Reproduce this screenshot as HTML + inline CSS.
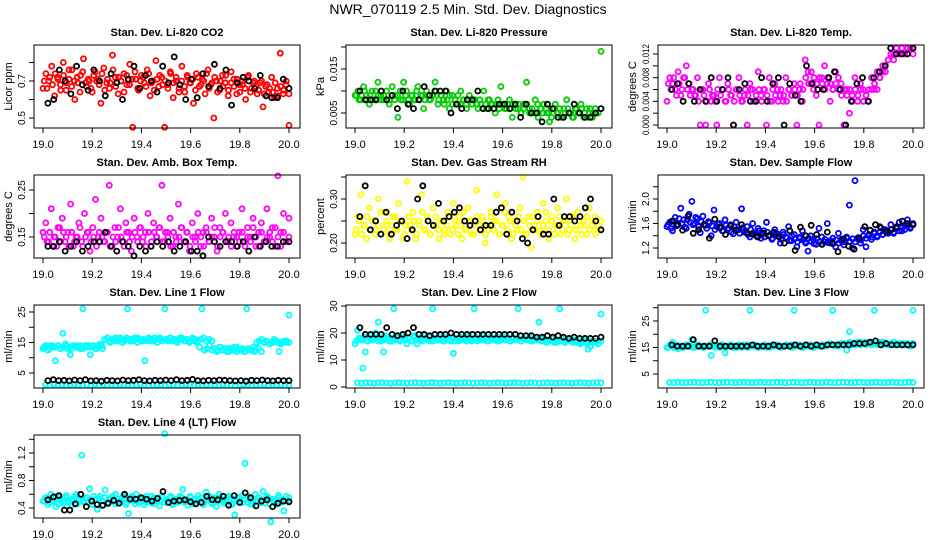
<!DOCTYPE html>
<html><head><meta charset="utf-8">
<style>
html,body{margin:0;padding:0;background:#fff;}
svg{display:block;font-family:"Liberation Sans",Arial,sans-serif;}
</style></head>
<body>
<svg id="chart" width="936" height="540" viewBox="0 0 936 540">
<rect width="936" height="540" fill="#fff"/>
<text x="468" y="14" text-anchor="middle" font-size="14">NWR_070119  2.5 Min. Std. Dev. Diagnostics</text>
</svg>
<script>
// ---- data arrays ----
const xTicks = [19.0,19.2,19.4,19.6,19.8,20.0];
const xTickLabels = ["19.0","19.2","19.4","19.6","19.8","20.0"];

const co2Main = [0.66,0.74,0.70,0.78,0.62,0.72,0.68,0.80,0.65,0.71,0.76,0.60,0.69,0.73,0.82,0.67,0.70,0.64,0.75,0.71,0.58,0.77,0.69,0.66,0.84,0.72,0.63,0.70,0.74,0.68,0.79,0.45,0.71,0.65,0.73,0.69,0.76,0.62,0.70,0.81,0.67,0.72,0.45,0.68,0.75,0.61,0.70,0.66,0.78,0.64,0.72,0.69,0.58,0.74,0.67,0.71,0.63,0.76,0.68,0.50,0.70,0.65,0.73,0.69,0.62,0.75,0.67,0.71,0.64,0.68,0.60,0.73,0.66,0.70,0.63,0.69,0.56,0.67,0.64,0.72,0.61,0.66,0.85,0.63,0.68,0.46];
const co2Core = [0.70,0.66,0.72,0.68,0.74,0.71,0.65,0.73,0.69,0.76,0.67,0.70,0.72,0.64,0.75,0.69,0.71,0.66,0.73,0.70,0.68,0.74,0.65,0.71,0.69,0.76,0.67,0.72,0.70,0.64,0.73,0.68,0.71,0.75,0.66,0.70,0.72,0.67,0.74,0.69,0.65,0.71,0.73,0.68,0.70,0.66,0.74,0.69,0.72,0.64,0.70,0.67,0.73,0.69,0.71,0.65,0.72,0.68,0.70,0.74,0.66,0.69,0.72,0.64,0.70,0.67,0.73,0.65,0.69,0.71,0.63,0.68,0.70,0.66,0.72,0.64,0.69,0.67,0.65,0.70,0.63,0.68,0.66,0.64,0.69,0.62,0.67,0.65,0.70,0.63];
const co2Black = [0.58,0.60,0.76,0.70,0.63,0.78,0.68,0.65,0.76,0.70,0.62,0.74,0.69,0.60,0.71,0.78,0.66,0.73,0.70,0.64,0.78,0.69,0.83,0.68,0.60,0.71,0.61,0.74,0.67,0.79,0.66,0.76,0.57,0.69,0.72,0.70,0.66,0.73,0.62,0.61,0.61,0.71,0.66];
const presMain = [0.009,0.010,0.008,0.011,0.009,0.007,0.010,0.008,0.012,0.009,0.008,0.010,0.007,0.011,0.009,0.004,0.008,0.012,0.010,0.007,0.009,0.008,0.011,0.009,0.006,0.010,0.008,0.009,0.012,0.007,0.009,0.008,0.010,0.006,0.009,0.008,0.007,0.010,0.008,0.006,0.009,0.007,0.008,0.006,0.007,0.010,0.006,0.008,0.007,0.005,0.008,0.011,0.007,0.006,0.008,0.004,0.007,0.006,0.005,0.007,0.012,0.006,0.005,0.008,0.004,0.006,0.007,0.005,0.003,0.006,0.007,0.005,0.004,0.006,0.008,0.005,0.004,0.006,0.005,0.007,0.004,0.006,0.005,0.004,0.006,0.005,0.019];
const presCore = [0.009,0.008,0.009,0.010,0.008,0.009,0.008,0.010,0.009,0.008,0.009,0.010,0.008,0.009,0.008,0.009,0.010,0.008,0.009,0.008,0.009,0.008,0.010,0.008,0.009,0.008,0.009,0.008,0.009,0.010,0.008,0.009,0.007,0.008,0.009,0.007,0.008,0.009,0.007,0.008,0.007,0.008,0.007,0.008,0.007,0.008,0.006,0.007,0.008,0.007,0.006,0.007,0.006,0.007,0.006,0.007,0.006,0.007,0.006,0.007,0.005,0.006,0.007,0.005,0.006,0.005,0.007,0.006,0.005,0.006,0.005,0.004,0.006,0.005,0.006,0.004,0.005,0.006,0.005,0.004,0.006,0.005,0.006,0.005,0.004,0.006,0.005,0.006,0.005,0.006];
const presBlack = [0.010,0.008,0.008,0.008,0.010,0.008,0.009,0.006,0.010,0.007,0.006,0.008,0.011,0.009,0.010,0.010,0.010,0.005,0.007,0.006,0.008,0.008,0.010,0.006,0.006,0.006,0.007,0.007,0.006,0.007,0.004,0.007,0.005,0.005,0.003,0.007,0.006,0.004,0.004,0.005,0.007,0.005,0.004,0.004,0.005,0.006];
const tempMain = [0.004,0.008,0.007,0.006,0.009,0.005,0.008,0.010,0.007,0.006,0.005,0.008,0.000,0.006,0.000,0.007,0.004,0.005,0.000,0.008,0.006,0.004,0.007,0.005,0.000,0.006,0.008,0.004,0.005,0.000,0.007,0.006,0.004,0.009,0.005,0.006,0.000,0.008,0.004,0.007,0.006,0.005,0.004,0.008,0.006,0.005,0.007,0.000,0.006,0.004,0.011,0.009,0.007,0.006,0.005,0.000,0.008,0.010,0.007,0.004,0.006,0.009,0.008,0.007,0.000,0.006,0.002,0.005,0.008,0.004,0.007,0.006,0.005,0.004,0.008,0.006,0.009,0.008,0.010,0.009,0.011,0.012,0.011,0.013,0.012,0.013,0.012,0.013,0.013,0.013];
const tempCore = [0.007,0.006,0.008,0.005,0.007,0.006,0.008,0.006,0.005,0.006,0.005,0.004,0.006,0.005,0.004,0.006,0.005,0.004,0.006,0.005,0.006,0.004,0.006,0.005,0.004,0.006,0.005,0.004,0.006,0.005,0.006,0.004,0.005,0.006,0.004,0.006,0.005,0.004,0.006,0.005,0.004,0.006,0.005,0.004,0.006,0.005,0.006,0.005,0.007,0.006,0.008,0.007,0.009,0.008,0.007,0.008,0.007,0.006,0.008,0.007,0.006,0.007,0.006,0.005,0.006,0.005,0.006,0.004,0.006,0.005,0.006,0.004,0.005,0.006,0.006,0.007,0.006,0.008,0.009,0.010,0.011,0.012,0.012,0.013,0.012,0.013,0.012,0.013,0.013,0.012];
const tempBlack = [0.006,0.007,0.004,0.007,0.004,0.006,0.004,0.008,0.004,0.006,0.008,0.000,0.006,0.007,0.004,0.004,0.008,0.004,0.007,0.008,0.000,0.007,0.005,0.004,0.010,0.007,0.006,0.006,0.008,0.009,0.006,0.000,0.004,0.007,0.008,0.004,0.008,0.009,0.010,0.013,0.012,0.012,0.012,0.013];
const ambMain = [0.16,0.18,0.14,0.21,0.15,0.13,0.17,0.19,0.14,0.16,0.22,0.13,0.15,0.18,0.14,0.20,0.16,0.12,0.17,0.23,0.15,0.19,0.14,0.16,0.26,0.13,0.17,0.15,0.21,0.14,0.18,0.16,0.12,0.19,0.15,0.17,0.14,0.16,0.20,0.13,0.18,0.15,0.17,0.26,0.14,0.16,0.19,0.13,0.15,0.22,0.17,0.14,0.16,0.12,0.18,0.15,0.20,0.13,0.16,0.17,0.14,0.19,0.15,0.12,0.17,0.16,0.20,0.14,0.18,0.15,0.13,0.16,0.21,0.14,0.17,0.15,0.19,0.13,0.16,0.18,0.14,0.21,0.15,0.17,0.13,0.28,0.16,0.20,0.14,0.19];
const ambCore = [0.15,0.14,0.16,0.13,0.15,0.17,0.14,0.16,0.15,0.13,0.16,0.14,0.15,0.17,0.13,0.15,0.16,0.14,0.15,0.13,0.16,0.15,0.14,0.16,0.13,0.15,0.14,0.17,0.15,0.13,0.16,0.14,0.15,0.16,0.14,0.17,0.15,0.13,0.16,0.14,0.16,0.15,0.17,0.14,0.16,0.15,0.13,0.16,0.14,0.15,0.17,0.14,0.16,0.13,0.15,0.14,0.16,0.15,0.13,0.16,0.14,0.15,0.17,0.13,0.15,0.16,0.14,0.15,0.13,0.16,0.15,0.14,0.16,0.13,0.15,0.14,0.17,0.15,0.13,0.16,0.14,0.15,0.16,0.14,0.17,0.15,0.13,0.16,0.14,0.15];
const ambBlack = [0.13,0.13,0.14,0.12,0.13,0.14,0.12,0.13,0.14,0.14,0.16,0.13,0.12,0.14,0.13,0.11,0.13,0.12,0.13,0.14,0.13,0.14,0.12,0.13,0.14,0.12,0.12,0.11,0.15,0.14,0.13,0.14,0.14,0.13,0.14,0.12,0.15,0.13,0.14,0.13,0.13,0.14,0.14];
const rhMain = [0.22,0.26,0.31,0.24,0.21,0.28,0.25,0.23,0.30,0.22,0.27,0.24,0.21,0.26,0.23,0.29,0.25,0.22,0.34,0.24,0.27,0.21,0.25,0.31,0.23,0.26,0.22,0.28,0.24,0.21,0.25,0.23,0.27,0.22,0.29,0.24,0.26,0.21,0.23,0.28,0.25,0.22,0.32,0.24,0.26,0.20,0.23,0.27,0.25,0.31,0.22,0.24,0.29,0.26,0.21,0.25,0.23,0.28,0.35,0.22,0.26,0.19,0.24,0.27,0.23,0.29,0.25,0.21,0.26,0.24,0.28,0.22,0.25,0.30,0.23,0.26,0.21,0.27,0.24,0.25,0.22,0.28,0.24,0.26,0.23,0.25];
const rhCore = [0.23,0.25,0.22,0.24,0.26,0.23,0.25,0.22,0.24,0.27,0.23,0.25,0.22,0.24,0.26,0.23,0.25,0.21,0.24,0.26,0.23,0.25,0.22,0.24,0.27,0.23,0.25,0.22,0.24,0.26,0.23,0.25,0.22,0.24,0.26,0.23,0.25,0.22,0.24,0.27,0.23,0.25,0.22,0.24,0.26,0.23,0.25,0.22,0.24,0.26,0.23,0.25,0.22,0.24,0.27,0.23,0.25,0.22,0.24,0.26,0.23,0.25,0.22,0.24,0.26,0.23,0.25,0.22,0.24,0.27,0.23,0.25,0.22,0.24,0.26,0.23,0.25,0.22,0.24,0.26,0.23,0.25,0.22,0.24,0.26,0.23,0.25,0.22,0.24,0.25];
const rhBlack = [0.26,0.33,0.23,0.25,0.22,0.27,0.22,0.24,0.25,0.21,0.23,0.30,0.33,0.25,0.24,0.29,0.25,0.26,0.27,0.28,0.25,0.24,0.25,0.23,0.24,0.24,0.27,0.28,0.22,0.27,0.25,0.21,0.20,0.23,0.26,0.22,0.22,0.30,0.24,0.26,0.26,0.25,0.26,0.28,0.30,0.25,0.23];
const flowMain = [1.55,1.62,1.48,1.70,1.58,1.85,1.66,1.52,1.75,1.96,1.60,1.68,1.45,1.72,1.57,1.63,1.40,1.82,1.55,1.60,1.48,1.66,1.52,1.58,1.43,1.62,1.50,1.84,1.46,1.55,1.38,1.60,1.44,1.52,1.36,1.48,1.62,1.40,1.34,1.50,1.43,1.28,1.46,1.38,1.55,1.32,1.42,1.22,1.36,1.48,1.30,1.15,1.40,1.34,1.26,1.52,1.38,1.30,1.60,1.28,1.36,1.22,1.44,1.32,1.25,1.38,1.90,1.20,2.30,1.35,1.28,1.50,1.22,1.40,1.34,1.46,1.38,1.55,1.42,1.50,1.46,1.58,1.44,1.52,1.62,1.48,1.56,1.66,1.54,1.60];
const flowCore = [1.58,1.52,1.64,1.56,1.68,1.60,1.54,1.66,1.62,1.58,1.70,1.55,1.63,1.58,1.52,1.61,1.56,1.50,1.59,1.54,1.48,1.57,1.52,1.46,1.55,1.50,1.44,1.53,1.48,1.42,1.50,1.45,1.40,1.48,1.43,1.38,1.46,1.41,1.36,1.44,1.39,1.34,1.42,1.37,1.32,1.40,1.35,1.30,1.38,1.33,1.28,1.36,1.31,1.27,1.35,1.30,1.26,1.34,1.29,1.32,1.27,1.33,1.28,1.34,1.30,1.36,1.31,1.35,1.30,1.37,1.33,1.40,1.36,1.42,1.38,1.44,1.40,1.46,1.42,1.48,1.44,1.50,1.46,1.52,1.48,1.54,1.50,1.56,1.52,1.58];
const flowBlack = [1.64,1.58,1.49,1.72,1.44,1.50,1.58,1.36,1.67,1.53,1.42,1.56,1.49,1.58,1.45,1.43,1.38,1.44,1.40,1.46,1.38,1.28,1.48,1.16,1.54,1.40,1.57,1.42,1.26,1.46,1.28,1.14,1.35,1.23,1.18,1.36,1.55,1.49,1.58,1.53,1.46,1.50,1.55,1.64,1.60,1.58];
const line1Main = [13,14,12.5,14,13.5,9,14,13,18,14.5,13,11,14,13.5,14,13,26,14,13.5,11,14,13,14,14.5,13,16,16.5,15,16,15.5,16,16.5,15,16,26,15.5,16,16.5,15,16,15.5,9,16,15.5,16,16.5,15,16,15.5,26,16,16.5,15.5,16,15,16.5,16,15.5,16,15,16,15.5,15,13.5,26,12.5,13,14,12.5,13,12,13.5,12.5,13,12,13,12.5,13.5,12,13,12.5,12,26,13,12.5,12,15,15.5,16,15,15.5,14.5,15,16,15.5,12,15,15.5,15,24];
const line1Core = [13.5,14,13,14,13.5,14,13,13.5,14,13.5,13,14,13.5,14,13,13.5,14,13.5,14,13,13.5,14,16,16.5,15.5,16,16.5,15.5,16,15.5,16.5,16,15.5,16,16.5,15.5,16,15.5,16.5,16,15.5,16,16.5,15.5,16,15.5,16.5,16,15.5,16,16.5,15.5,16,15.5,16.5,16,15.5,16,16.5,15.5,16,15.5,13,12.5,13.5,12.5,13,12,13,12.5,13.5,12.5,13,12,13,12.5,13.5,12.5,13,12,15,15.5,14.5,15,15.5,15,14.5,15,15.5,15];
const line1Base = [1.2,1.0,1.3,1.1,1.2,1.0,1.2,1.3,1.1,1.0,1.2,1.1,1.3,1.0,1.2,1.1,1.2,1.0,1.3,1.1,1.2,1.0,1.1,1.3,1.2,1.0,1.1,1.2,1.3,1.0,1.2,1.1,1.0,1.2,1.3,1.1,1.0,1.2,1.1,1.2,1.1,1.2,1.0,1.3,1.1,1.2,1.0,1.2,1.3,1.1,1.0,1.2,1.1,1.3,1.0,1.2,1.1,1.2,1.0,1.1];
const line1Black = [2.5,2.8,2.5,2.6,2.4,2.7,2.5,2.8,2.4,2.5,2.3,2.6,2.5,2.4,2.7,2.5,2.6,2.8,2.5,2.4,2.6,2.5,2.7,2.5,2.8,2.5,2.6,2.9,2.5,2.4,2.6,2.5,2.7,2.6,2.5,2.4,2.5,2.3,2.6,2.5,2.7,2.5,2.4,2.6,2.5,2.5];
const line2Main = [16,21,18,7,13,17,19,18,20,24,17,13,19,18,17,29,18,17.5,19,18,16,18.5,17,19,16,18,17.5,19,18,17,29,18,17.5,19,17,18,18.5,17,12.5,18,17,18.5,17.5,18,19,17,29,18,17.5,19,18,17,18.5,17.5,18,17,18,19,17.5,18,17,18,17.5,29,17,18,17.5,18,17,17.5,18,24,17,18,16.5,17.5,18,17,16.5,29,17.5,16.5,17,18,16.5,17,17.5,16,17,16.5,14,15,17,16.5,17,27];
const line2Core = [17,18,17.5,18.5,17,18,17.5,18,17,18.5,17.5,18,17,18,17.5,18.5,17,18,17.5,18,17,18.5,17.5,18,17,18,17.5,18.5,17,18,17.5,18,17,18.5,17.5,18,17,18,17.5,18.5,17,18,17.5,18,17,18.5,17.5,18,17,18,17.5,18.5,17,18,17.5,18,17,18.5,17.5,18,17,18,17.5,18.5,17,18,17.5,18,17,17.5,17,18,16.5,17.5,17,18,16.5,17.5,17,17.5,16.5,17,16.5,17.5,16,17,16.5,17,16,17];
const line2Base = [1.5,1.4,1.6,1.5,1.4,1.5,1.6,1.5,1.4,1.5,1.6,1.5,1.4,1.5,1.6,1.5,1.4,1.5,1.6,1.5,1.4,1.5,1.6,1.5,1.4,1.5,1.6,1.5,1.4,1.5,1.6,1.5,1.4,1.5,1.6,1.5,1.4,1.5,1.6,1.5,1.4,1.5,1.6,1.5,1.4,1.5,1.6,1.5,1.4,1.5,1.6,1.5,1.4,1.5,1.6,1.5,1.4,1.5,1.6,1.5];
const line2Black = [22,19.5,19.5,19.5,19.5,22,19.5,19,19.5,20,22,19.5,19.5,19,19.5,19.5,19.5,20,19.5,19.5,19.5,19.5,19.5,19.5,19.5,19.5,19.5,19.5,19.5,19.5,19,19,19,18.5,18.5,19,18.5,19,18.5,18,18.5,18,18,18,18,18.5];
const line3Main = [15,16,17,15,14.5,15.5,15,16,15.5,18,15,16,15.5,15,29,15.5,12,16,15.5,15,16,13,15.5,16,15,15.5,16,15,15.5,16,29,15.5,16,15,15.5,16,15,15.5,16,15.5,16,15,15.5,16,15.5,16,29,15.5,16,15,16,15.5,16,15,16,15.5,16,15.5,16,16,29,16,15.5,16,16.5,14,21,16,16.5,17,16,16.5,17,16.5,16,29,16.5,17,16,16.5,16,16.5,17,16,16.5,16,16.5,16,15.5,29];
const line3Core = [15,15.5,15,16,15.5,15,15.5,16,15.5,15,15.5,16,15.5,15,15.5,16,15.5,15,15.5,16,15.5,15,15.5,16,15.5,15,15.5,16,15.5,15,15.5,16,15.5,15,15.5,16,15.5,15,15.5,16,15.5,15,15.5,16,15.5,15,15.5,16,15.5,15,15.5,16,15.5,15.5,16,15.5,16,15.5,16,16.5,16,15.5,16,16.5,16,16.5,17,16.5,16,16.5,17,16.5,16,16.5,17,16.5,16,16.5,17,16.5,16,16.5,16,16.5,16,16.5,16,16.5,16,16.5];
const line3Base = [1.8,1.7,1.9,1.8,1.7,1.8,1.9,1.8,1.7,1.8,1.9,1.8,1.7,1.8,1.9,1.8,1.7,1.8,1.9,1.8,1.7,1.8,1.9,1.8,1.7,1.8,1.9,1.8,1.7,1.8,1.9,1.8,1.7,1.8,1.9,1.8,1.7,1.8,1.9,1.8,1.7,1.8,1.9,1.8,1.7,1.8,1.9,1.8,1.7,1.8,1.9,1.8,1.7,1.8,1.9,1.8,1.7,1.8,1.9,1.8];
const line3Black = [16,15.5,15.5,15.5,18,15.5,15.5,15.5,17.5,15.5,15.5,15.5,15.5,15.5,15.5,16,15.5,15.5,15.5,16,15.5,15.5,15.5,16,15.5,16,15.5,16,15.5,16,16,16,16,16,16.5,16.5,16.5,17,17.5,16,16.5,16,16,16,16,16];
const line4Main = [0.5,0.55,0.45,0.6,0.5,0.42,0.56,0.5,0.47,0.58,0.5,0.44,0.53,0.6,0.5,1.17,0.48,0.55,0.68,0.45,0.52,0.38,0.57,0.5,0.66,0.46,0.54,0.5,0.6,0.47,0.52,0.58,0.45,0.32,0.55,0.5,0.6,0.48,0.53,0.45,0.57,0.5,0.47,0.55,0.5,0.43,0.58,1.48,0.5,0.55,0.45,0.52,0.48,0.57,0.67,0.5,0.44,0.55,0.52,0.47,0.58,0.5,0.45,0.63,0.53,0.48,0.55,0.42,0.6,0.5,0.47,0.55,0.52,0.45,0.3,0.55,0.5,0.58,1.05,0.48,0.55,0.45,0.6,0.5,0.52,0.64,0.47,0.55,0.2,0.5,0.45,0.58,0.52,0.36,0.5,0.55];
const line4Core = [0.5,0.55,0.48,0.52,0.57,0.46,0.53,0.5,0.55,0.48,0.52,0.57,0.46,0.53,0.5,0.55,0.48,0.52,0.57,0.46,0.53,0.5,0.55,0.48,0.52,0.57,0.46,0.53,0.5,0.55,0.48,0.52,0.57,0.46,0.53,0.5,0.55,0.48,0.52,0.57,0.46,0.53,0.5,0.55,0.48,0.52,0.57,0.46,0.53,0.5,0.55,0.48,0.52,0.57,0.46,0.53,0.5,0.55,0.48,0.52,0.57,0.46,0.53,0.5,0.55,0.48,0.52,0.57,0.46,0.53,0.5,0.55,0.48,0.52,0.57,0.46,0.53,0.5,0.55,0.48,0.52,0.57,0.46,0.53,0.5,0.55,0.48,0.52,0.57,0.5];
const line4Black = [0.52,0.56,0.58,0.37,0.37,0.46,0.6,0.42,0.5,0.45,0.44,0.47,0.51,0.47,0.6,0.53,0.53,0.55,0.53,0.5,0.54,0.64,0.48,0.5,0.51,0.52,0.49,0.46,0.48,0.57,0.52,0.52,0.57,0.44,0.58,0.48,0.62,0.55,0.43,0.5,0.52,0.42,0.47,0.5,0.49];

// ---- layout ----
const NS = "http://www.w3.org/2000/svg";
const svg = document.getElementById('chart');
const colLeft = [34,346,658];
const rowTop = [45,175,305,435];
const W = 266, H = 83;

const panels = [
 {id:'co2',title:'Stan. Dev. Li-820 CO2',ylab:'Licor ppm',c:0,r:0,col:'#ff0000',v1:0.5,p1:73,v2:0.7,p2:36,ticks:[0.5,0.6,0.7,0.8],labels:['0.5','','0.7',''],series:[co2Main,co2Core],black:co2Black,fs:10},
 {id:'pressure',title:'Stan. Dev. Li-820 Pressure',ylab:'kPa',c:1,r:0,col:'#00cc00',v1:0.005,p1:68,v2:0.015,p2:24,ticks:[0.000,0.005,0.010,0.015,0.020],labels:['0.000','0.005','','0.015',''],series:[presMain,presCore],black:presBlack,fs:10},
 {id:'temp',title:'Stan. Dev. Li-820 Temp.',ylab:'degrees C',c:2,r:0,col:'#ff00ff',v1:0.0,p1:80,v2:0.012,p2:9,ticks:[0,0.002,0.004,0.006,0.008,0.010,0.012],labels:['0.000','','0.004','','0.008','','0.012'],series:[tempMain,tempCore],black:tempBlack,fs:9,tl:20},
 {id:'amb',title:'Stan. Dev. Amb. Box Temp.',ylab:'degrees C',c:0,r:1,col:'#ff00ff',v1:0.15,p1:62,v2:0.25,p2:15,ticks:[0.15,0.20,0.25],labels:['0.15','','0.25'],series:[ambMain,ambCore],black:ambBlack,fs:10},
 {id:'rh',title:'Stan. Dev. Gas Stream RH',ylab:'percent',c:1,r:1,col:'#ffff00',v1:0.20,p1:68,v2:0.30,p2:24,ticks:[0.20,0.25,0.30,0.35],labels:['0.20','','0.30',''],series:[rhMain,rhCore],black:rhBlack,fs:10},
 {id:'sample',title:'Stan. Dev. Sample Flow',ylab:'ml/min',c:2,r:1,col:'#0000ff',v1:1.2,p1:73,v2:2.0,p2:24,ticks:[1.2,1.4,1.6,1.8,2.0,2.2],labels:['1.2','','1.6','','2.0',''],series:[flowMain,flowCore],black:flowBlack,fs:10},
 {id:'line1',title:'Stan. Dev. Line 1 Flow',ylab:'ml/min',c:0,r:2,col:'#00ffff',v1:5,p1:68,v2:25,p2:7,ticks:[5,10,15,20,25],labels:['5','','15','','25'],series:[line1Main,line1Core,line1Base],black:line1Black,fs:10},
 {id:'line2',title:'Stan. Dev. Line 2 Flow',ylab:'ml/min',c:1,r:2,col:'#00ffff',v1:0,p1:82,v2:30,p2:1,ticks:[0,10,20,30],labels:['0','10','20','30'],series:[line2Main,line2Core,line2Base],black:line2Black,fs:10},
 {id:'line3',title:'Stan. Dev. Line 3 Flow',ylab:'ml/min',c:2,r:2,col:'#00ffff',v1:5,p1:69,v2:25,p2:16,ticks:[5,10,15,20,25,30],labels:['5','','15','','25',''],series:[line3Main,line3Core,line3Base],black:line3Black,fs:10},
 {id:'line4',title:'Stan. Dev. Line 4 (LT) Flow',ylab:'ml/min',c:0,r:3,col:'#00ffff',v1:0.4,p1:73,v2:1.2,p2:18,ticks:[0.4,0.6,0.8,1.0,1.2,1.4],labels:['0.4','','0.8','','1.2',''],series:[line4Main,line4Core],black:line4Black,fs:10}
];

function mk(tag, attrs, parent){
  const e = document.createElementNS(NS, tag);
  for (const k in attrs) e.setAttribute(k, attrs[k]);
  parent.appendChild(e);
  return e;
}

panels.forEach(p => {
  const L = colLeft[p.c], T = rowTop[p.r];
  const g = mk('g', {}, svg);
  
  
  const xs = v => L + 9 + (v - 19) * 246;
  const ys = v => T + p.p1 + (v - p.v1) * (p.p2 - p.p1) / (p.v2 - p.v1);

  const t = mk('text', {x: L + W/2, y: T - 9, 'text-anchor':'middle', 'font-size':'11', 'font-weight':'bold'}, g);
  t.textContent = p.title;
  
  

  const yl = mk('text', {x: 0, y: 0, 'text-anchor':'middle', 'font-size':'11', transform:`translate(${L-22},${T+H/2}) rotate(-90)`}, g);
  yl.textContent = p.ylab;
  
  

  const pts = mk('g', {fill:'none', 'stroke-width':'1.8'}, g);
  
  
  p.series.forEach((arr, k) => {
    const n = arr.length;
    const off = k * 0.005;
    arr.forEach((v, i) => {
      const xv = 19 + off + (1 - off) * i / (n - 1);
      const c = mk('circle', {cx: xs(xv).toFixed(1), cy: ys(v).toFixed(1), r: 2.5, stroke: p.col}, pts);
      
      
    });
  });
  const nb = p.black.length;
  p.black.forEach((v, i) => {
    const xv = 19.02 + 0.98 * i / (nb - 1);
    const c = mk('circle', {cx: xs(xv).toFixed(1), cy: ys(v).toFixed(1), r: 2.5, stroke: '#000'}, pts);
    
    
  });

  const box = mk('rect', {x: L, y: T, width: W, height: H, fill:'none', stroke:'#000', 'stroke-width':'1'}, g);
  
  

  xTicks.forEach((v, i) => {
    const x = xs(v);
    mk('line', {x1:x, y1:T+H, x2:x, y2:T+H+5, stroke:'#000'}, g);
    const tl = mk('text', {x:x, y:T+H+20, 'text-anchor':'middle', 'font-size':'11'}, g);
    tl.textContent = xTickLabels[i];
    
    
  });
  p.ticks.forEach((v, i) => {
    const y = ys(v);
    if (y < T - 1 || y > T + H + 1) return;
    mk('line', {x1:L-5, y1:y, x2:L, y2:y, stroke:'#000'}, g);
    if (p.labels[i]) {
      const attrs = {x:0, y:0, 'text-anchor':'middle', 'font-size':p.fs, transform:`translate(${L-9},${y}) rotate(-90)`};
      if (p.tl) { attrs.textLength = p.tl; attrs.lengthAdjust = 'spacingAndGlyphs'; }
      const tl = mk('text', attrs, g);
      tl.textContent = p.labels[i];
      
      
    }
  });
});
</script>
</body></html>
